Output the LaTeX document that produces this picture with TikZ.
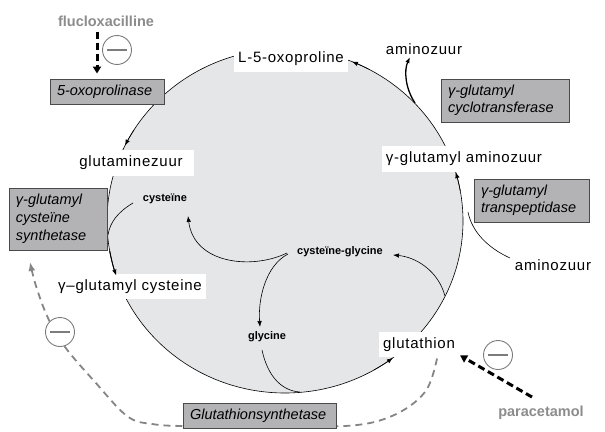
\documentclass[tikz,border=0pt]{standalone}
\usepackage{fontspec}
\setmainfont{Liberation Sans}
\newfontfamily\lblfont[LetterSpace=5]{Liberation Sans}
\usetikzlibrary{arrows.meta}
\definecolor{cellfill}{HTML}{E5E6E8}
\definecolor{enzfill}{HTML}{B3B3B5}
\definecolor{enzline}{HTML}{4A4A4A}
\definecolor{druggray}{HTML}{8C8C8C}
\definecolor{inhgray}{HTML}{7C7C7C}
\definecolor{dashgray}{HTML}{858585}
\begin{document}
\begin{tikzpicture}[x=1pt,y=-1pt,
  lbl/.style={fill=white, inner xsep=4pt, inner ysep=5.5pt, text height=11pt, text depth=3.5pt, font=\lblfont\fontsize{15}{18}\selectfont},
  sml/.style={font=\bfseries\fontsize{11}{13}\selectfont, inner sep=1pt},
  enz/.style={draw=enzline, fill=enzfill, line width=0.9pt, font=\itshape\fontsize{14.5}{17}\selectfont, align=left, inner xsep=7pt, inner ysep=0pt},
  drug/.style={text=druggray, font=\bfseries\fontsize{14.5}{17}\selectfont, inner sep=1pt},
  inh/.style={circle, draw=inhgray, fill=white, line width=0.9pt, minimum size=29pt, inner sep=0pt,
    path picture={\draw[inhgray, line width=1.8pt] ([xshift=-10pt]path picture bounding box.center) -- ([xshift=10pt]path picture bounding box.center);}},
  flow/.style={line width=0.6pt},
  tip/.style={-{Latex[length=6pt,width=4.5pt]}},
  blkdash/.style={line width=3pt, dash pattern=on 7pt off 4pt, -{Triangle[length=7pt,width=8pt]}},
  gdash/.style={dashgray, line width=1.8pt, dash pattern=on 7pt off 5pt, -{Latex[length=9pt,width=7pt]}}
]
\useasboundingbox (0,0) rectangle (605,431);

% cell
\filldraw[fill=cellfill, draw=black, flow] (285,221) ellipse [x radius=178, y radius=172];

% inner reactions
\draw[flow] (133,203) .. controls (118,212) and (110,222) .. (108,235);
\draw[flow] (262,350) .. controls (268,378) and (283,391) .. (300,392);
\draw[flow,tip] (287,253) .. controls (252,270) and (194,264) .. (188,216);
\draw[flow,tip] (288,254) .. controls (265,266) and (258,300) .. (260,327);
\draw[flow,tip] (445,296) .. controls (438,270) and (415,257) .. (393,255);
\draw[flow] (510,258) .. controls (488,248) and (472,232) .. (468,212);
\draw[line width=1.3pt,tip] (415,103) .. controls (405,88) and (404,70) .. (410,57);

% labels
\node[lbl] (oxoL) at (291,59) {L-5-oxoproline};
\node[lbl,fill=none] (amino1) at (424,51) {aminozuur};
\node[lbl,inner xsep=11pt] (glu) at (131,163) {glutaminezuur};
\node[lbl] (gga) at (464,159) {γ-glutamyl aminozuur};
\node[lbl] (ggc) at (130,286.5) {γ–glutamyl cysteine};
\node[lbl] (glut) at (419,344.5) {glutathion};
\node[lbl,fill=none] (amino2) at (553,267) {aminozuur};

\node[sml] (cys) at (165,199) {cysteïne};
\node[sml] (cysgly) at (340,252) {cysteïne-glycine};
\node[sml] (gly) at (267,337) {glycine};

% gray dashed feedback
\coordinate (gs) at ([xshift=18pt,yshift=-1pt]glut.south);
\draw[gdash] plot[smooth, tension=0.6] coordinates {(gs) (425,392) (392,416) (345,426) (260,424) (190,426) (152,424) (127,416) (95,382) (65,347) (48,318) (36,286) (30,262)};

% enzymes
\node[enz, minimum width=114pt, minimum height=25pt, text width=100pt] (oxoase) at (107,91.5) {5-oxoprolinase};
\node[enz, minimum width=128pt, minimum height=43pt, text width=114pt] (cyclo) at (505,100.5) {γ-glutamyl\\cyclotransferase};
\node[enz, minimum width=115pt, minimum height=43pt, text width=101pt] (transp) at (531.5,200.5) {γ-glutamyl\\transpeptidase};
\node[enz, minimum width=98pt, minimum height=62pt, text width=84pt, font=\itshape\fontsize{14.5}{18}\selectfont] (synth) at (58,219) {γ-glutamyl\\cysteïne\\synthetase};
\node[enz, minimum width=153pt, minimum height=25pt, text width=139pt] (gsyn) at (259.5,415.5) {Glutathionsynthetase};

% arrow tips along the cycle
\draw[flow,tip] ({285+178*cos(60)},{221+172*sin(60)}) arc[start angle=60, end angle=52.7, x radius=178, y radius=172];
\draw[flow,tip] ({285+178*cos(-10)},{221+172*sin(-10)}) arc[start angle=-10, end angle=-16.5, x radius=178, y radius=172];
\draw[flow,tip] ({285+178*cos(-62)},{221+172*sin(-62)}) arc[start angle=-62, end angle=-67.9, x radius=178, y radius=172];
\draw[flow,tip] ({285+178*cos(-148)},{221+172*sin(-148)}) arc[start angle=-148, end angle=-154, x radius=178, y radius=172];
\draw[line width=1pt,tip] ({285+178*cos(170)},{221+172*sin(170)}) arc[start angle=170, end angle=161.5, x radius=178, y radius=172];

% inhibitors
\node[inh] (inh1) at (117,50) {};
\node[inh] (inh2) at (60,332) {};
\node[inh] (inh3) at (498,355) {};

% drugs
\node[drug] (flu) at (106,21) {flucloxacilline};
\node[drug] (para) at (541,413) {paracetamol};
\draw[blkdash] ([xshift=-9pt,yshift=-4pt]flu.south) -- ([xshift=-10pt,yshift=5pt]oxoase.north);
\draw[blkdash] ([xshift=-9pt,yshift=8pt]para.north) -- ([xshift=1pt,yshift=2pt]glut.south east);
\end{tikzpicture}
\end{document}
